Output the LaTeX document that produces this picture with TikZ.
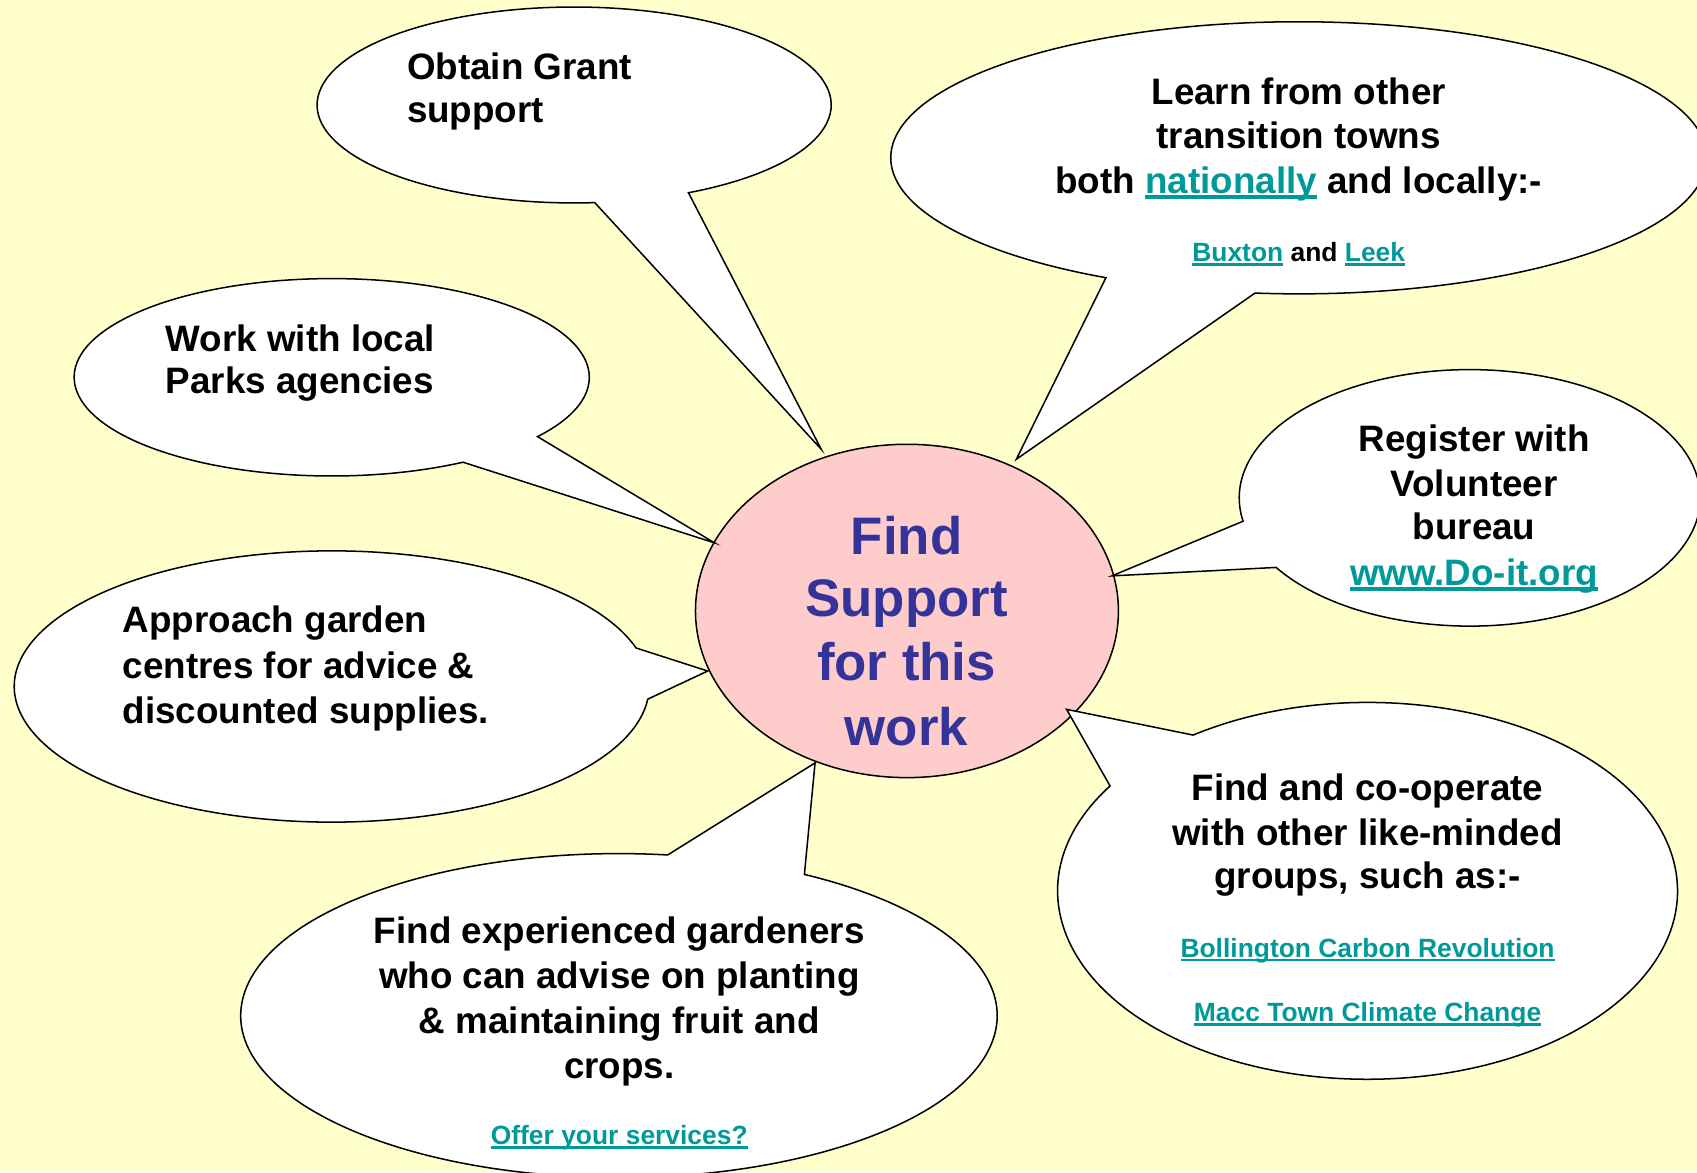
\documentclass[tikz,border=0pt]{standalone}
\usepackage{fontspec}
\setmainfont{Liberation Sans}
\usetikzlibrary{shapes.geometric}
\definecolor{bg}{HTML}{FFFFCC}
\definecolor{hubfill}{HTML}{FFCCCC}
\definecolor{hubtext}{HTML}{333399}
\definecolor{linkc}{HTML}{009999}
\newcommand\lnk[1]{{\color{linkc}\setbox0\hbox{#1}\rlap{\rule[-0.16em]{\wd0}{0.1em}}\box0}}
\begin{document}
\begin{tikzpicture}[x=0.5pt,y=-0.5pt,
  bubble/.style={draw=black,fill=white,line width=0.7pt,line join=miter},
  main/.style={font=\bfseries\fontsize{17pt}{20pt}\selectfont, inner sep=0pt, text=black},
  small/.style={font=\bfseries\fontsize{12.2pt}{14pt}\selectfont, inner sep=0pt, text=black, anchor=base},
  hubtxt/.style={font=\bfseries\fontsize{24.4pt}{29pt}\selectfont, inner sep=0pt, text=hubtext, anchor=base}
]
\useasboundingbox (0,0) rectangle (1568,1083);
\fill[bg] (0,0) rectangle (1568,1083);
\clip (0,0) rectangle (1568,1083);

% central ellipse
\node[ellipse, draw=black, fill=hubfill, line width=0.7pt, inner sep=0pt,
      minimum width=195.4pt, minimum height=154pt] (hub) at (838,564.5) {};

% bubble centres and tail tips
\coordinate (c1) at (530.5,97);    \coordinate (tip1) at (758.8,415.1);
\coordinate (c2) at (1200,145.8);  \coordinate (tip2) at (939.1,424.3);
\coordinate (c3) at (306.5,348.6); \coordinate (tip3) at (660.2,501.6);
\coordinate (c4) at (1358,460);    \coordinate (tip4) at (1027.4,532.1);
\coordinate (c5) at (306.5,634.3); \coordinate (tip5) at (653.9,620);
\coordinate (c6) at (1263.6,823.1);\coordinate (tip6) at (985.5,655.4);
\coordinate (c7) at (571.9,938.4); \coordinate (tip7) at (753.1,704.9);

\draw[bubble] (c1) ++(-63.6:118.75pt and 45.25pt)
  arc[start angle=-63.6, end angle=274.6, x radius=118.75pt, y radius=45.25pt] -- (tip1) -- cycle;
\draw[bubble] (c2) ++(-96.15:188.5pt and 62.85pt)
  arc[start angle=-96.15, end angle=241.8, x radius=188.5pt, y radius=62.85pt] -- (tip2) -- cycle;
\draw[bubble] (c3) ++(-36.96:119pt and 45.6pt)
  arc[start angle=-36.96, end angle=300.65, x radius=119pt, y radius=45.6pt] -- (tip3) -- cycle;
\draw[bubble] (c4) ++(212.85:106.5pt and 59.25pt)
  arc[start angle=212.85, end angle=550.5, x radius=106.5pt, y radius=59.25pt] -- (tip4) -- cycle;
\draw[bubble] (c5) ++(16.5:146.65pt and 62.65pt)
  arc[start angle=16.5, end angle=354.65, x radius=146.65pt, y radius=62.65pt] -- (tip5) -- cycle;
\draw[bubble] (c6) ++(146.18:143.2pt and 87.05pt)
  arc[start angle=146.18, end angle=484.24, x radius=143.2pt, y radius=87.05pt] -- (tip6) -- cycle;
\draw[bubble] (c7) ++(82.6:174.75pt and 74.85pt)
  arc[start angle=82.6, end angle=420.64, x radius=174.75pt, y radius=74.85pt] -- (tip7) -- cycle;

% hub text
\node[hubtxt] (h1) at (837.6,511.9) {Find};
\node[hubtxt] (h2) at (837.6,569.8) {Support};
\node[hubtxt] (h3) at (837.6,629.2) {for this};
\node[hubtxt] (h4) at (837.6,688.4) {work};

% Obtain Grant
\node[main, anchor=base west] (t1a) at (375.7,73.3) {Obtain Grant};
\node[main, anchor=base west] (t1b) at (375.7,112.9) {support};

% Learn
\node[main, anchor=base] (t2a) at (1200,96.2) {Learn from other};
\node[main, anchor=base] (t2b) at (1200,137.2) {transition towns};
\node[main, anchor=base] (t2c) at (1200,178.5) {both \lnk{nationally} and locally:-};
\node[small] (t2d) at (1200,241.5) {\lnk{Buxton} and \lnk{Leek}};

% Work
\node[main, anchor=base west] (t3a) at (152.8,324.4) {Work with local};
\node[main, anchor=base west] (t3b) at (152.8,364) {Parks agencies};

% Register
\node[main, anchor=base] (t4a) at (1362,417.2) {Register with};
\node[main, anchor=base] (t4b) at (1362,458.6) {Volunteer};
\node[main, anchor=base] (t4c) at (1362,498.5) {bureau};
\node[main, anchor=base] (t4d) at (1362,540.7) {\lnk{www.Do-it.org}};

% Approach
\node[main, anchor=base west] (t5a) at (113,584.6) {Approach garden};
\node[main, anchor=base west] (t5b) at (113,626.7) {centres for advice \&};
\node[main, anchor=base west] (t5c) at (113,668.4) {discounted supplies.};

% Co-operate
\node[main, anchor=base] (t6a) at (1263.6,739.2) {Find and co-operate};
\node[main, anchor=base] (t6b) at (1263.6,780.8) {with other like-minded};
\node[main, anchor=base] (t6c) at (1263.6,821.1) {groups, such as:-};
\node[small] (t6d) at (1263.6,884.4) {\lnk{Bollington Carbon Revolution}};
\node[small] (t6e) at (1263.6,944) {\lnk{Macc Town Climate Change}};

% Experienced gardeners
\node[main, anchor=base] (t7a) at (572.2,871.3) {Find experienced gardeners};
\node[main, anchor=base] (t7b) at (572.2,913) {who can advise on planting};
\node[main, anchor=base] (t7c) at (572.2,955.2) {\& maintaining fruit and};
\node[main, anchor=base] (t7d) at (572.2,996.1) {crops.};
\node[small] (t7e) at (572.2,1057.6) {\lnk{Offer your services?}};
\end{tikzpicture}
\end{document}
